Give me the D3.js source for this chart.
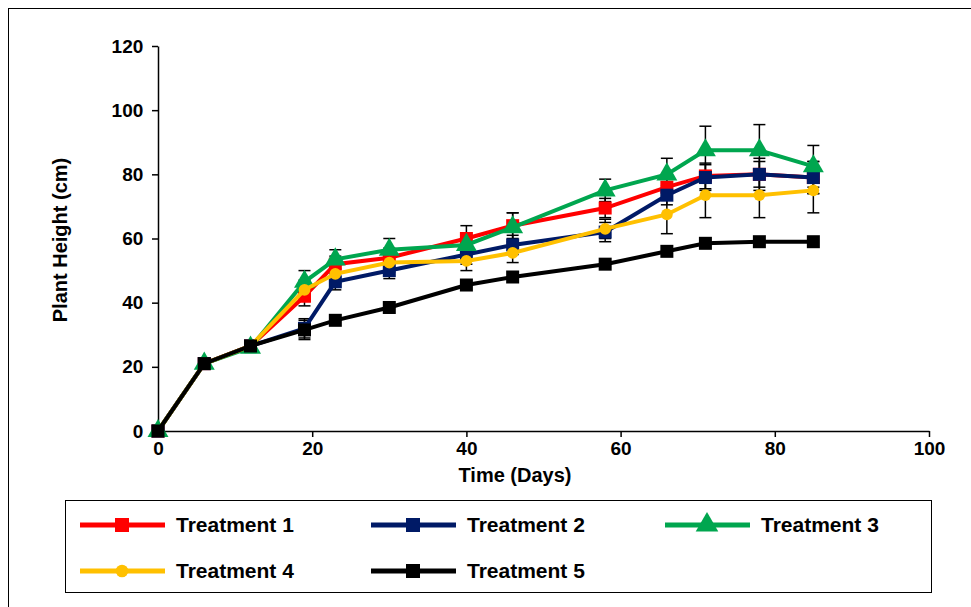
<!DOCTYPE html>
<html><head><meta charset="utf-8">
<script src="https://cdn.jsdelivr.net/npm/d3@7"></script>
<style>body{margin:0;background:#fff}svg{font-family:Arial,"Liberation Sans",sans-serif}</style>
</head><body><svg id="c" width="971" height="607"></svg>
<script>
var days = [0, 6, 12, 19, 23, 30, 40, 46, 58, 66, 71, 78, 85];
var names = ["Treatment 1", "Treatment 2", "Treatment 3", "Treatment 4", "Treatment 5"];
var colors = ["#ff0000", "#001a66", "#00a64f", "#ffc000", "#000000"];
var shapes = ["square", "square", "triangle", "circle", "square"];
var t1 = [0, 21, 26.5, 42, 52, 54, 60, 64, 69.5, 76, 79.5, 80, 79];
var t2 = [0, 21, 26.5, 32, 46.5, 50, 55, 58, 62, 73.5, 79, 80, 79];
var t3 = [0, 21, 26, 46.5, 53.5, 56.5, 58, 63.5, 75, 80, 87.5, 87.5, 82.5];
var t4 = [0, 21, 26.5, 44, 49, 52.5, 53, 55.5, 63, 67.5, 73.5, 73.5, 75];
var t5 = [0, 21, 26.5, 31.5, 34.5, 38.5, 45.5, 48, 52, 56, 58.5, 59, 59];
var e1 = [0, 1, 1.5, 3, 2.5, 3, 4, 4, 3, 4, 4, 5, 5];
var e2 = [0, 1, 1.5, 3, 2.5, 2.5, 3, 3, 3, 3, 4, 4, 5];
var e3 = [0, 1, 1.5, 3.5, 3, 3.5, 3, 4.5, 3.5, 5, 7.5, 8, 6.5];
var e4 = [0, 1, 1.5, 3, 3, 3, 3, 3, 3, 6, 7, 7, 7];
var e5 = [0, 0, 0, 3, 0, 0, 0, 0, 0, 0, 0, 0, 0];
var series = [t1, t2, t3, t4, t5], errs = [e1, e2, e3, e4, e5];
var xTicks = [0, 20, 40, 60, 80, 100], yTicks = [0, 20, 40, 60, 80, 100, 120];

var svg = d3.select("#c");
svg.append("rect").attr("x", 8.5).attr("y", 8.5).attr("width", 970).attr("height", 610)
  .attr("fill", "none").attr("stroke", "#000");
var x = d3.scaleLinear().domain([0, 100]).range([158, 929]);
var y = d3.scaleLinear().domain([0, 120]).range([431, 46]);

var gx = svg.append("g").attr("transform", "translate(0,431)")
  .call(d3.axisBottom(x).tickValues(xTicks).tickSize(6).tickSizeOuter(0));
var gy = svg.append("g").attr("transform", "translate(158,0)")
  .call(d3.axisLeft(y).tickValues(yTicks).tickSize(6).tickSizeOuter(0));
[gx, gy].forEach(function(g) {
  g.selectAll("path,line").attr("stroke", "#000").attr("stroke-width", 1.5);
  g.selectAll("text").attr("font-size", 19).attr("font-weight", "bold").attr("fill", "#000");
});
gx.selectAll("text").attr("dy", "0.8em");
gy.selectAll("text").attr("dx", "-0.3em");

svg.append("text").attr("x", 515).attr("y", 482).attr("text-anchor", "middle")
  .attr("font-size", 20).attr("font-weight", "bold").text("Time (Days)");
svg.append("text").attr("transform", "translate(67,240) rotate(-90)").attr("text-anchor", "middle")
  .attr("font-size", 20).attr("font-weight", "bold").text("Plant Height (cm)");

function marker(g, shape, color, cx, cy, s) {
  if (shape === "square") g.append("rect").attr("x", cx - s).attr("y", cy - s).attr("width", 2 * s).attr("height", 2 * s).attr("fill", color);
  else if (shape === "circle") g.append("circle").attr("cx", cx).attr("cy", cy).attr("r", s * 0.9).attr("fill", color);
  else g.append("path").attr("d", d3.symbol(d3.symbolTriangle, s * s * 4.5)()).attr("transform", "translate(" + cx + "," + cy + ")").attr("fill", color);
}

var line = d3.line().x(function(d, i) { return x(days[i]); }).y(function(d) { return y(d); });
series.forEach(function(vals, k) {
  var g = svg.append("g");
  vals.forEach(function(v, i) {
    var er = errs[k][i];
    if (!er) return;
    var cx = x(days[i]);
    g.append("line").attr("x1", cx).attr("x2", cx).attr("y1", y(v - er)).attr("y2", y(v + er)).attr("stroke", "#000").attr("stroke-width", 1.5);
    [v - er, v + er].forEach(function(e) {
      g.append("line").attr("x1", cx - 6).attr("x2", cx + 6).attr("y1", y(e)).attr("y2", y(e)).attr("stroke", "#000").attr("stroke-width", 1.5);
    });
  });
});
series.forEach(function(vals, k) {
  var g = svg.append("g");
  g.append("path").datum(vals).attr("d", line).attr("fill", "none").attr("stroke", colors[k]).attr("stroke-width", 4);
  vals.forEach(function(v, i) { marker(g, shapes[k], colors[k], x(days[i]), y(v), 6.5); });
});

// legend
svg.append("rect").attr("x", 65.5).attr("y", 500.5).attr("width", 866).attr("height", 92)
  .attr("fill", "none").attr("stroke", "#000");
var lx = [120, 411, 705, 120, 411], ly = [525, 525, 525, 571, 571];
names.forEach(function(n, k) {
  var g = svg.append("g");
  g.append("line").attr("x1", lx[k] - 40).attr("x2", lx[k] + 45).attr("y1", ly[k]).attr("y2", ly[k]).attr("stroke", colors[k]).attr("stroke-width", 5);
  marker(g, shapes[k], colors[k], lx[k] + 2, ly[k], 7);
  g.append("text").attr("x", lx[k] + 56).attr("y", ly[k] + 7).attr("font-size", 21).attr("font-weight", "bold").text(n);
});
</script></body></html>
